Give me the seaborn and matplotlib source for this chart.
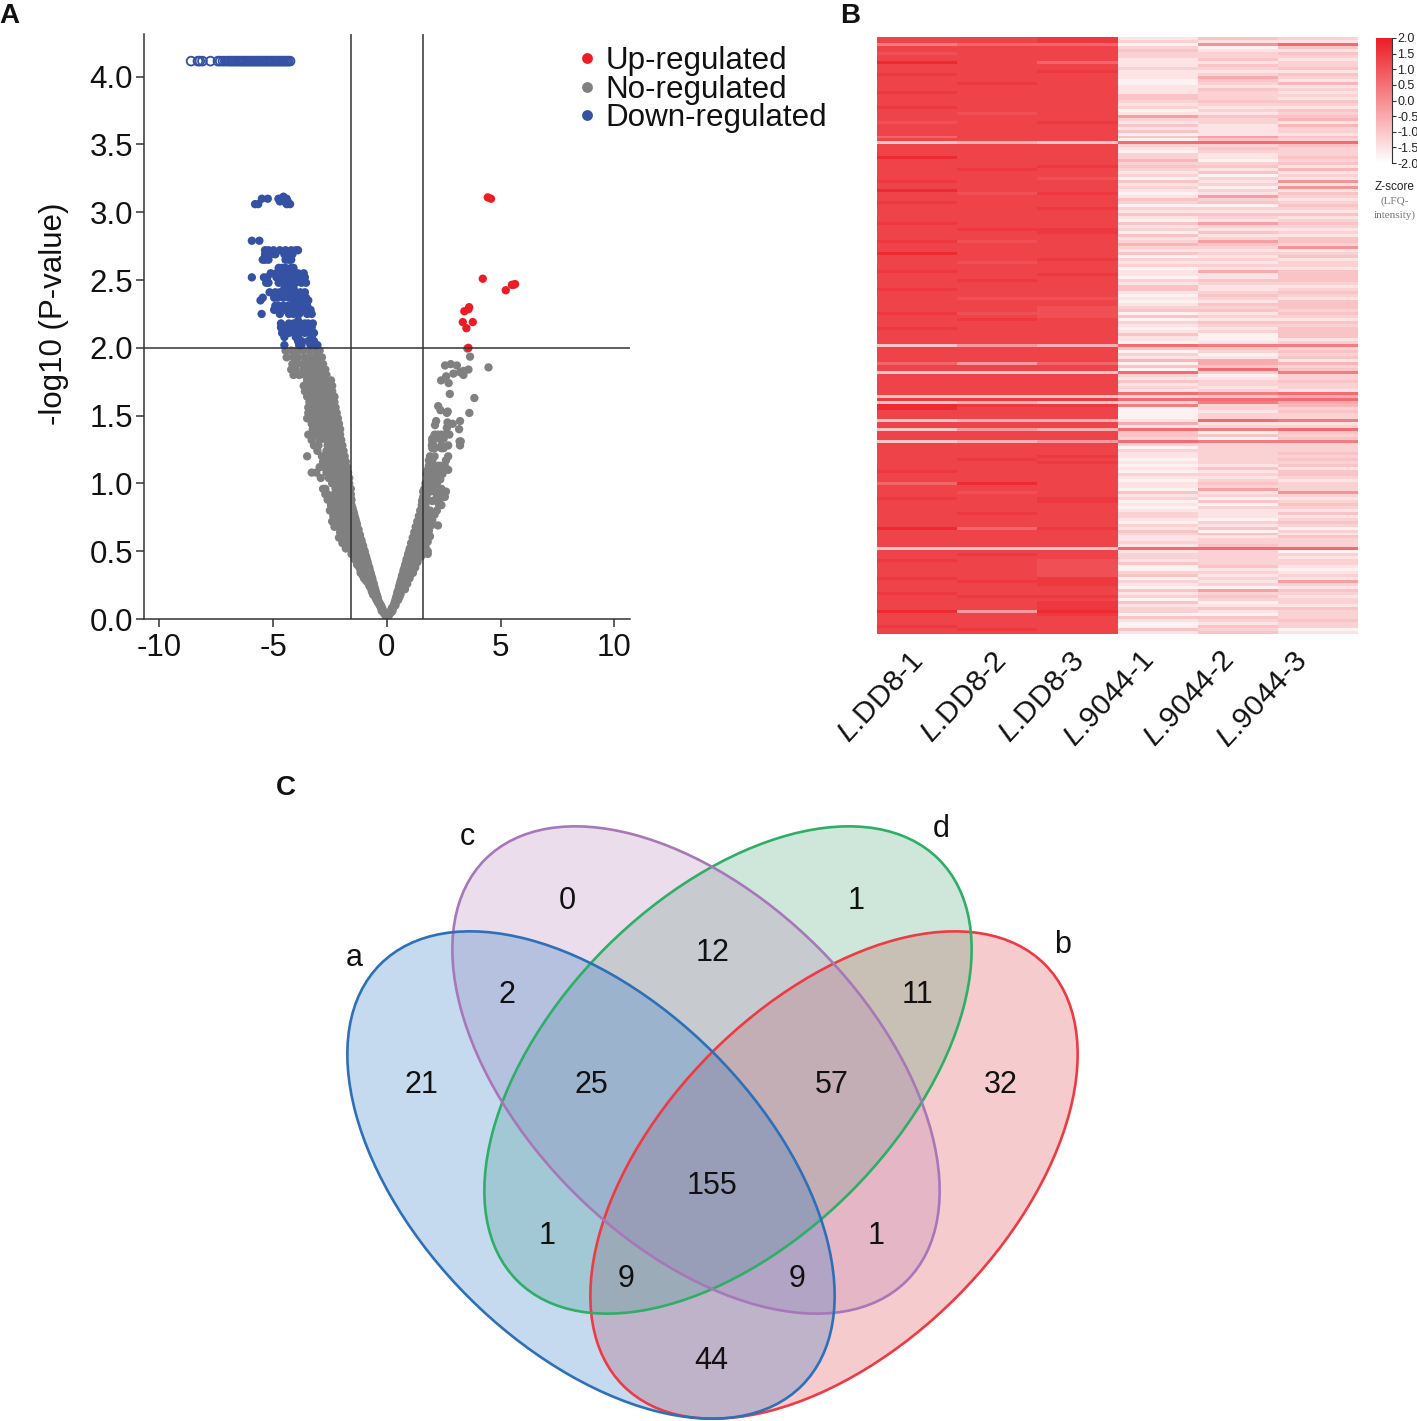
import numpy as np
import pandas as pd
import seaborn as sns
import matplotlib.pyplot as plt
from matplotlib.colors import LinearSegmentedColormap
from matplotlib.patches import Ellipse
from matplotlib.transforms import ScaledTranslation

W, H = 1417, 1421

# ------------------------
# Panel A: volcano plot
# ------------------------
# open markers on the saturated row
OPEN_X = [-8.6, -8.3, -8.22, -8.1, -7.75, -7.42, -7.32, -7.2, -7.1, -7.0, -6.9, -6.82, -6.75, -6.66,
          -6.58, -6.5, -6.42, -6.35, -6.28, -6.2, -6.12, -6.05, -5.97, -5.9, -5.82, -5.75, -5.67,
          -5.6, -5.52, -5.45, -5.38, -5.3, -5.22, -5.15, -5.08, -5.0, -4.92, -4.85, -4.78, -4.7,
          -4.62, -4.55, -4.48, -4.4, -4.33, -4.25]
OPEN_Y = 4.115

# points per horizontal level
BLUE_Y = [3.115, 3.10, 3.08, 3.06, 2.79, 2.72, 2.69, 2.65, 2.59, 2.55, 2.52, 2.48, 2.44, 2.41, 2.37,
          2.35, 2.31, 2.28, 2.25, 2.20, 2.18, 2.15, 2.11, 2.08, 2.05, 2.02]
BLUE_X = [[-4.54], [-5.49, -5.23, -4.66, -4.4, -4.76], [-4.7, -4.5, -4.35], [-5.79, -5.65, -4.25, -4.4],
          [-5.93, -5.6],
          [-5.35, -5.2, -4.98, -4.7, -4.45, -4.2, -4.0, -3.9],
          [-5.35, -5.1, -4.9, -4.5, -4.3, -4.15],
          [-5.45, -5.35, -5.2, -4.45, -4.3, -4.2],
          [-4.75, -4.6, -4.45, -4.2, -4.1],
          [-5.1, -4.85, -4.7, -4.5, -4.3, -4.1, -3.9, -3.65],
          [-5.93, -5.4, -5.25, -4.85, -4.7, -4.55, -4.4, -4.25, -4.05, -3.9, -3.6],
          [-5.3, -5.2, -4.75, -4.55, -4.4, -4.2, -4.0, -3.75, -3.55],
          [-4.5, -4.3, -4.1],
          [-5.15, -4.9, -4.7, -4.45, -4.25, -4.0, -3.8, -3.6],
          [-5.45, -4.95, -4.8, -4.55, -4.3, -4.1, -3.9, -3.7, -3.55],
          [-5.55, -4.1, -3.95, -3.75, -3.45],
          [-4.9, -4.75, -4.55, -4.35, -4.15, -3.95, -3.75, -3.5],
          [-4.95, -4.7, -4.5, -4.2, -4.0, -3.8, -3.6, -3.35],
          [-5.5, -4.7, -4.3, -4.1, -3.85, -3.5, -3.3],
          [-3.9],
          [-4.65, -4.3, -4.1, -3.95, -3.8, -3.6, -3.45, -3.25],
          [-4.65, -4.45, -4.2, -4.05, -3.9, -3.7, -3.5, -3.3],
          [-4.6, -4.45, -4.3, -4.05, -3.85, -3.6, -3.4, -3.2],
          [-4.5, -4.0, -3.9, -3.3],
          [-3.9, -3.75, -3.45, -3.3, -3.2],
          [-4.5, -3.85, -3.75, -3.35, -3.15, -3.05]]

GREY_LEFT_Y = [1.98, 1.93, 1.88, 1.84, 1.80, 1.76, 1.72, 1.68, 1.64, 1.60, 1.56, 1.52, 1.48, 1.44, 1.40,
               1.36, 1.32, 1.28, 1.24, 1.20, 1.16, 1.12, 1.08, 1.04, 1.00, 0.96, 0.92, 0.88, 0.84, 0.80,
               0.76, 0.72, 0.68, 0.64, 0.60, 0.56, 0.52, 0.48, 0.44, 0.40, 0.36, 0.32, 0.28, 0.24, 0.20,
               0.16, 0.12, 0.08, 0.04, 0.01]
GREY_LEFT_X = [[-4.45, -4.2, -3.95, -3.7, -3.4, -3.15, -2.95], [-4.4, -4.1, -3.9, -3.6, -3.35, -3.1, -2.85],
               [-4.15, -3.95, -3.7, -3.5, -3.25, -3.0, -2.8], [-4.2, -4.0, -3.65, -3.4, -3.2, -2.95, -2.7],
               [-4.1, -3.85, -3.6, -3.4, -3.15, -2.9, -2.65], [-3.5, -3.25, -3.05, -2.8, -2.6, -2.45],
               [-3.65, -3.45, -3.2, -3.0, -2.75, -2.55, -2.4], [-3.6, -3.35, -3.1, -2.9, -2.7, -2.4],
               [-3.5, -3.3, -3.05, -2.85, -2.55, -2.3], [-3.4, -3.1, -2.9, -2.6, -2.35, -2.3],
               [-3.45, -3.2, -3.0, -2.8, -2.55, -2.25], [-3.45, -3.3, -3.0, -2.75, -2.5, -2.2],
               [-3.5, -3.2, -2.95, -2.7, -2.45, -2.15], [-3.3, -3.05, -2.85, -2.6, -2.35, -2.1],
               [-3.25, -3.05, -2.8, -2.55, -2.3, -2.05], [-3.45, -3.15, -2.9, -2.7, -2.45, -2.25, -2.05],
               [-3.3, -2.95, -2.65, -2.4, -2.2, -2.0], [-3.2, -3.0, -2.6, -2.4, -2.15, -1.95],
               [-3.05, -2.65, -2.45, -2.2, -2.0, -1.9], [-3.5, -2.85, -2.6, -2.35, -2.15, -1.95, -1.85],
               [-2.8, -2.55, -2.3, -2.1, -1.9, -1.8], [-2.95, -2.75, -2.5, -2.25, -2.05, -1.85, -1.75],
               [-3.3, -3.1, -2.65, -2.4, -2.2, -2.0, -1.8, -1.7], [-2.9, -2.55, -2.35, -2.15, -1.95, -1.75, -1.65],
               [-2.4, -2.2, -2.0, -1.8, -1.65], [-2.8, -2.7, -2.25, -2.05, -1.85, -1.65, -1.58],
               [-2.7, -2.6, -2.3, -2.1, -1.9, -1.7, -1.58], [-2.6, -2.3, -2.1, -1.9, -1.7, -1.62, -1.55],
               [-2.45, -2.15, -1.95, -1.75, -1.55], [-2.5, -2.35, -2.1, -1.9, -1.7, -1.48],
               [-2.35, -2.1, -1.85, -1.65, -1.42], [-2.4, -2.2, -1.95, -1.75, -1.55, -1.35],
               [-2.3, -2.1, -1.85, -1.6, -1.33], [-2.05, -1.85, -1.55, -1.25], [-2.1, -1.9, -1.7, -1.45, -1.17],
               [-1.95, -1.75, -1.5, -1.1], [-1.8, -1.55, -1.3, -1.03], [-1.55, -1.3, -1.1, -0.95],
               [-1.4, -1.2, -0.88], [-1.3, -1.05, -0.82], [-1.15, -0.95, -0.75], [-1.05, -0.85, -0.68],
               [-0.9, -0.7, -0.62], [-0.75, -0.55], [-0.65, -0.48], [-0.5, -0.4], [-0.38, -0.32],
               [-0.25, -0.2], [-0.12], [-0.03]]

# denser lower arm of the V, left side
GREY_VLEFT_Y = [0.06, 0.10, 0.14, 0.18, 0.22, 0.26, 0.30, 0.34, 0.38, 0.42, 0.46, 0.50, 0.54, 0.58, 0.62,
                0.66, 0.70, 0.74, 0.78, 0.82, 0.86, 0.90]
GREY_VLEFT_X = [[-0.22, -0.15], [-0.31, -0.25], [-0.38, -0.45], [-0.44, -0.6], [-0.51, -0.68], [-0.57, -0.8],
                [-0.64, -0.85, -1.0], [-0.71, -0.9, -1.15], [-0.77, -1.0, -1.2], [-0.84, -1.05, -1.3],
                [-0.91, -1.15, -1.4], [-0.97, -1.2, -1.5], [-1.04, -1.3, -1.6], [-1.11, -1.35, -1.7],
                [-1.18, -1.45, -1.8], [-1.24, -1.5, -1.9], [-1.31, -1.6, -2.0], [-1.38, -1.7], [-1.44],
                [-1.51], [-1.58], [-1.6]]

GREY_RIGHT_Y = [1.995, 1.935, 1.88, 1.87, 1.856, 1.84, 1.83, 1.82, 1.81, 1.80, 1.79, 1.76, 1.74, 1.66, 1.63,
                1.57, 1.54, 1.53, 1.52, 1.46, 1.45, 1.44, 1.43, 1.41, 1.40, 1.36, 1.33, 1.31, 1.28, 1.26,
                1.20, 1.17, 1.13, 1.10, 1.07, 1.03, 1.00, 0.96, 0.94, 0.90, 0.87, 0.84, 0.80, 0.77, 0.73,
                0.69, 0.65, 0.61, 0.57, 0.53, 0.50, 0.46, 0.42, 0.38, 0.34, 0.30, 0.26, 0.22, 0.18, 0.14,
                0.10, 0.06, 0.03]
GREY_RIGHT_X = [[3.54], [3.66], [2.81], [2.56, 3.08], [4.47], [3.59], [3.37], [3.22], [2.93], [3.37], [2.61],
                [2.39], [2.72], [2.77], [3.85], [2.26], [2.36], [2.68], [3.63, 2.64], [3.22, 2.17],
                [2.67], [2.9], [2.12], [2.64], [3.18], [2.1, 2.25, 2.4, 2.55, 2.75], [2.0, 2.1, 2.3, 2.5],
                [3.25, 3.2, 2.0], [3.22, 1.98, 2.05, 2.4, 2.7], [2.0, 2.1, 2.4, 2.5], [1.9, 2.1, 2.7],
                [1.85, 2.0, 2.6], [1.85, 2.05, 2.25, 2.35, 2.55], [1.8, 1.9, 2.2, 2.4, 2.7],
                [1.75, 1.9, 2.15, 2.45], [1.8, 2.05, 2.25, 2.35], [1.7, 1.85, 2.2],
                [1.65, 1.8, 2.0, 2.3, 2.4], [1.6, 1.75, 1.9, 2.1, 2.35, 2.6], [1.6, 1.75, 2.2, 2.4, 2.55],
                [1.55, 1.7, 2.0, 2.2, 2.3], [1.55, 1.7, 2.3, 2.4], [1.5, 1.65, 1.9, 2.2],
                [1.5, 1.6, 1.8, 2.0, 2.1], [1.45, 1.6, 1.75, 1.9, 2.0], [1.4, 1.55, 1.8, 1.95, 2.25],
                [1.35, 1.55, 1.65, 1.85], [1.3, 1.45, 1.55, 1.75, 1.9], [1.25, 1.45, 1.6, 1.8],
                [1.2, 1.35, 1.55, 1.7], [0.99, 1.2, 1.4, 1.6, 1.8], [0.93, 1.1, 1.3, 1.5],
                [0.86, 1.05, 1.25, 1.35], [0.78, 0.95, 1.1, 1.25], [0.72, 0.9, 1.05, 1.15], [0.65, 0.8, 1.0],
                [0.58, 0.75, 0.9], [0.52, 0.7, 0.8], [0.45, 0.6], [0.38, 0.5], [0.3, 0.38], [0.2, 0.25], [0.1]]

# denser lower arm of the V, right side
GREY_VRIGHT_Y = [0.02, 0.05, 0.08, 0.12, 0.16, 0.20, 0.24, 0.28, 0.32, 0.36, 0.40, 0.44, 0.48, 0.52, 0.56,
                 0.60, 0.64, 0.68, 0.72, 0.76, 0.80, 0.84, 0.88]
GREY_VRIGHT_X = [[0.06], [0.12, 0.2], [0.27, 0.22], [0.34, 0.4], [0.41, 0.55], [0.47, 0.62], [0.54, 0.7],
                 [0.61, 0.78], [0.67, 0.9, 1.0], [0.74, 0.95, 1.15], [0.81, 1.05, 1.25], [0.87, 1.1, 1.35],
                 [0.94, 1.15, 1.4, 1.6, 1.8], [1.01, 1.3], [1.07, 1.4], [1.14, 1.35], [1.21, 1.45],
                 [1.27, 1.5], [1.34, 1.5], [1.41], [1.47], [1.54], [1.58]]

RED_X = [4.44, 4.58, 4.22, 5.5, 5.57, 5.64, 5.23, 3.41, 3.59, 3.62, 3.34, 3.78, 3.50, 3.59]
RED_Y = [3.11, 3.10, 2.51, 2.465, 2.465, 2.47, 2.425, 2.27, 2.285, 2.30, 2.19, 2.19, 2.145, 2.0]

STATUS = ["Up-regulated", "No-regulated", "Down-regulated"]
STATUS_COLORS = ["#ED1C24", "#808080", "#3451A3"]
X_TICKS = [-10, -5, 0, 5, 10]
Y_TICKS = [0.0, 0.5, 1.0, 1.5, 2.0, 2.5, 3.0, 3.5, 4.0]
FC_CUT = 1.585
P_CUT = 2.0

# ------------------------
# Panel B: heatmap, one digit per row (level index into the Z arrays)
# ------------------------
Z_HIGH = [-1.75, -1.0, -0.6, -0.2, 0.3, 0.7, 1.1, 1.3, 1.5, 1.75]
Z_LOW = [-1.75, -1.5, -1.2, -0.95, -0.7, -0.5, -0.3, -0.1, 0.3, 0.6]
SAMPLES = ["DD8-1", "DD8-2", "DD8-3", "9044-1", "9044-2", "9044-3"]
DD8_1 = ("7747767797" "7787777787" "7778777767" "7775717777" "9777777787"
         "7977787777" "7787777787" "7797777787" "7777877777" "7787777877"
         "7771777775" "7717777777" "1819977717" "7177717777" "7777787775"
         "7777877777" "7777977777" "7177787777" "7877778777" "7797777877")
DD8_2 = ("7757777777" "7777787777" "7777767777" "7777727777" "7777877777"
         "7767777777" "7777877767" "7777767777" "7877777677" "7767877777"
         "7773777773" "7717777777" "1828777727" "7377727777" "7877777779"
         "7767777778" "7777577777" "7178777777" "7787777877" "7737777787")
DD8_3 = ("8857777757" "7877777777" "7777777787" "7777717777" "7778777677"
         "7787777877" "7777887777" "7777877778" "7777777677" "6666777777"
         "7772777775" "7717777777" "1818777727" "7277737777" "8787777777"
         "7777887777" "7777877777" "7177766666" "6888777878" "8898777777")
L9044_1 = ("1202322111" "2111001113" "3212016213" "1303092102" "2423212031"
           "2101320213" "1031203124" "2130212011" "0213310101" "2303021013"
           "1109302140" "3092131219" "2928000015" "1933292021" "1010102101"
           "1031201012" "2102132112" "1912213002" "3021031203" "1220310031")
L9044_2 = ("3170122313" "2125321322" "2321213221" "1116392321" "1023130212"
           "0216230213" "2162131263" "2121212151" "1321123213" "2312132120"
           "0018320155" "3920122128" "3982212291" "2803082222" "2221312123"
           "2612030211" "1021303122" "3922222312" "1212062320" "1310321323")
L9044_3 = ("2193132122" "3132141212" "1321323414" "2213293222" "3231412171"
           "7132123213" "1232121332" "7123122133" "3321232133" "3232132333"
           "3128232314" "2382232219" "5954232281" "2932382223" "2323133212"
           "2272123213" "1232021322" "2902122101" "2162132122" "1322232201")
CBAR_TICKS = [-2.0, -1.5, -1.0, -0.5, 0.0, 0.5, 1.0, 1.5, 2.0]
LABEL_SHIFT_PX = [-8, -6, -8, -18, -19, -26]

# ------------------------
# Panel C: Venn counts
# ------------------------
VENN_COUNTS = ["21", "0", "1", "32", "2", "12", "11", "25", "57", "155", "1", "1", "9", "9", "44"]
VENN_NAMES = ["a", "b", "c", "d"]


def axes_px(fig, left, top, right, bottom):
    return fig.add_axes([left / W, 1 - bottom / H, (right - left) / W, (bottom - top) / H])


def expand(levels, xs):
    y = np.repeat(levels, [len(v) for v in xs])
    x = [v for row in xs for v in row]
    return pd.DataFrame({"x": x, "y": y})


sns.set_theme(style="ticks")
plt.rcParams["font.family"] = ["Liberation Sans", "DejaVu Sans"]
plt.rcParams["axes.unicode_minus"] = False
plt.rcParams["mathtext.fontset"] = "custom"
plt.rcParams["mathtext.it"] = "Liberation Sans:italic"
plt.rcParams["mathtext.rm"] = "Liberation Sans"

fig = plt.figure(figsize=(W / 100, H / 100), dpi=100, facecolor="white")

# ---- A ----
ax = axes_px(fig, 144, 34, 630, 619)
frames = []
for status, frame in [("No-regulated", expand(GREY_LEFT_Y, GREY_LEFT_X)),
                      ("No-regulated", expand(GREY_VLEFT_Y, GREY_VLEFT_X)),
                      ("No-regulated", expand(GREY_RIGHT_Y, GREY_RIGHT_X)),
                      ("No-regulated", expand(GREY_VRIGHT_Y, GREY_VRIGHT_X)),
                      ("Down-regulated", expand(BLUE_Y, BLUE_X)),
                      ("Up-regulated", pd.DataFrame({"x": RED_X, "y": RED_Y}))]:
    frames.append(frame.assign(status=status))
volcano = pd.concat(frames, ignore_index=True)
sns.scatterplot(data=volcano, x="x", y="y", hue="status", hue_order=STATUS, palette=STATUS_COLORS,
                s=36, linewidth=0, ax=ax, clip_on=True)
open_row = pd.DataFrame({"x": OPEN_X, "y": OPEN_Y})
sns.scatterplot(data=open_row, x="x", y="y", facecolors="none", edgecolor=STATUS_COLORS[2],
                s=40, linewidth=1.3, ax=ax, legend=False)
ax.axvline(-FC_CUT, color="#333333", lw=1.1, zorder=4)
ax.axvline(FC_CUT, color="#333333", lw=1.1, zorder=4)
ax.axhline(P_CUT, color="#333333", lw=1.1, zorder=4)
ax.set_xlim(-10.67, 10.69)
ax.set_ylim(0, 4.315)
ax.set_xticks(X_TICKS)
ax.set_yticks(Y_TICKS)
ax.set_yticklabels([f"{v:.1f}" for v in Y_TICKS])
ax.tick_params(labelsize=22.5, length=6, width=1.1, color="#333333", labelcolor="#111111", pad=2)
ax.tick_params(axis="x", pad=4)
ax.set_xlabel("")
ax.set_ylabel("-log10 (P-value)", fontsize=22.5, color="#111111")
ax.yaxis.set_label_coords(-0.155, 0.521)
sns.despine(ax=ax)
for side in ["left", "bottom"]:
    ax.spines[side].set_linewidth(1.1)
    ax.spines[side].set_color("#333333")
sns.move_legend(ax, "upper left", bbox_to_anchor=(0.8786, 0.979), frameon=False, title=None, fontsize=22.6,
                markerscale=1.3, labelspacing=-0.05, handlelength=1.0, handletextpad=0.1,
                borderpad=0, borderaxespad=0, labelcolor="#111111")

# ---- B ----
ax_heat = axes_px(fig, 877, 37, 1358, 634)
ax_cbar = axes_px(fig, 1376, 38, 1392, 163)
heat = pd.DataFrame({
    SAMPLES[0]: [Z_HIGH[int(c)] for c in DD8_1],
    SAMPLES[1]: [Z_HIGH[int(c)] for c in DD8_2],
    SAMPLES[2]: [Z_HIGH[int(c)] for c in DD8_3],
    SAMPLES[3]: [Z_LOW[int(c)] for c in L9044_1],
    SAMPLES[4]: [Z_LOW[int(c)] for c in L9044_2],
    SAMPLES[5]: [Z_LOW[int(c)] for c in L9044_3],
})
cmap = LinearSegmentedColormap.from_list("white_red", ["#FFFFFF", "#EC1C24"])
sns.heatmap(heat, cmap=cmap, vmin=-2, vmax=2, ax=ax_heat, cbar_ax=ax_cbar, yticklabels=False,
            cbar_kws={"ticks": CBAR_TICKS, "format": "%.1f"})
ax_heat.set_xticklabels([rf"$\mathit{{L}}$.{name}" for name in SAMPLES], rotation=47, ha="right",
                        rotation_mode="anchor", fontsize=21.5, color="#111111")
ax_heat.tick_params(axis="x", length=0, pad=9)
for label, dx in zip(ax_heat.get_xticklabels(), LABEL_SHIFT_PX):
    label.set_transform(label.get_transform() + ScaledTranslation(dx / 100, 0, fig.dpi_scale_trans))
ax_cbar.tick_params(labelsize=9, length=3, width=0.8, pad=1, color="#333333", labelcolor="#222222")
ax_heat.collections[0].colorbar.outline.set_visible(False)
ax_cbar.spines["right"].set_visible(True)
ax_cbar.spines["right"].set_linewidth(0.8)
ax_cbar.spines["right"].set_color("#333333")

# ---- overlay: Venn and free text, in pixel units ----
ov = fig.add_axes([0, 0, 1, 1], zorder=-1)
ov.set_xlim(0, W)
ov.set_ylim(H, 0)
ov.axis("off")

for center, angle, fill in [((834, 1175), -45, "#DF333B"),
                            ((728, 1070), -45, "#3FA36F"),
                            ((696, 1070), 45, "#B37BB3"),
                            ((591, 1175), 45, "#1B6FC3")]:
    ov.add_patch(Ellipse(center, 596, 346, angle=angle, facecolor=fill, edgecolor="none", alpha=0.25))
for center, angle, edge in [((834, 1175), -45, "#EE3A43"),
                            ((728, 1070), -45, "#2FAE68"),
                            ((696, 1070), 45, "#A778B8"),
                            ((591, 1175), 45, "#2E70B8")]:
    ov.add_patch(Ellipse(center, 596, 346, angle=angle, facecolor="none", edgecolor=edge, lw=1.9))

count_pos = [(421, 1085), (567, 901), (856, 901), (1001, 1085), (507, 995), (713, 953), (917, 995),
             (591, 1085), (832, 1085), (712, 1186), (547, 1236), (876, 1236), (626, 1279), (797, 1279),
             (711, 1361)]
for label, (px, py) in zip(VENN_COUNTS, count_pos):
    ov.text(px, py, label, fontsize=22, ha="center", va="center", color="#111111")
for label, (px, py) in zip(VENN_NAMES, [(354, 958), (1063, 945), (467, 837), (941, 829)]):
    ov.text(px, py, label, fontsize=22, ha="center", va="center", color="#111111")
for label, (px, py) in zip("ABC", [(9, 16), (850, 16), (286, 788)]):
    ov.text(px, py, label, fontsize=20, fontweight="bold", ha="center", va="center", color="#111111")
ov.text(1395, 187, "Z-score", fontsize=8.5, ha="center", va="center", color="#222222")
ov.text(1395, 201, "(LFQ-", fontsize=8, ha="center", va="center", color="#777777", family="Liberation Serif")
ov.text(1395, 215, "intensity)", fontsize=8, ha="center", va="center", color="#777777", family="Liberation Serif")

fig.savefig("out.png", dpi=100)
